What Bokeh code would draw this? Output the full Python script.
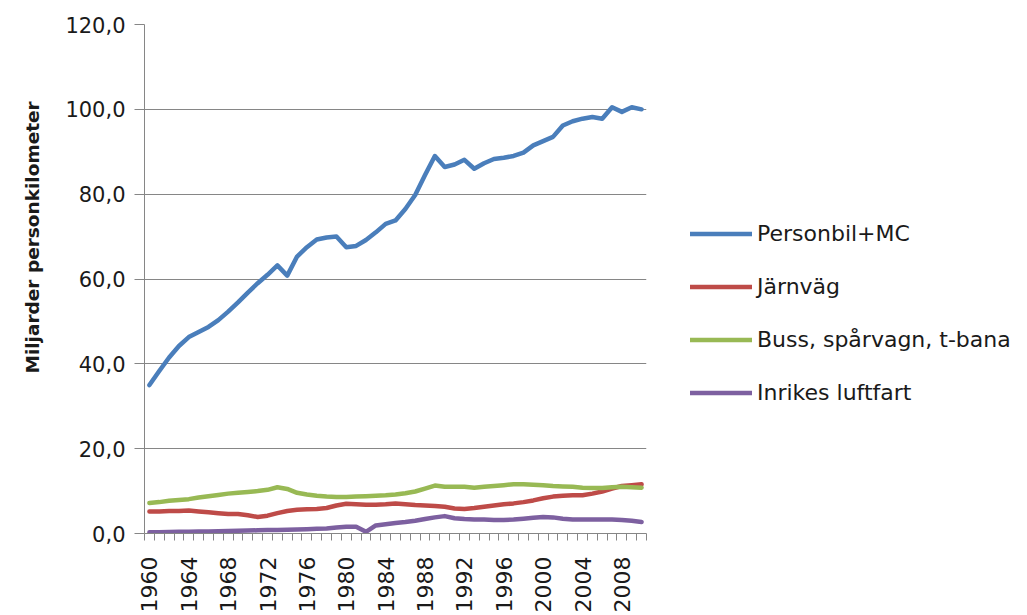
from bokeh.plotting import figure
from bokeh.models import Range1d, FixedTicker, Legend, LegendItem, Title
from bokeh.embed import file_html
from bokeh.resources import INLINE
import math

years = list(range(1960, 2011))

personbil = [35.0, 38.3, 41.5, 44.2, 46.3, 47.5, 48.7, 50.3, 52.3, 54.5,
             56.8, 59.0, 61.0, 63.2, 60.8, 65.3, 67.5, 69.3, 69.8, 70.0,
             67.5, 67.8, 69.2, 71.0, 73.0, 73.8, 76.5, 79.8, 84.5, 89.0,
             86.4, 87.0, 88.1, 86.0, 87.3, 88.3, 88.6, 89.0, 89.8, 91.5,
             92.5, 93.5, 96.2, 97.2, 97.8, 98.2, 97.8, 100.5, 99.4, 100.5,
             100.0]

jarnvag = [5.2, 5.2, 5.3, 5.3, 5.4, 5.2, 5.0, 4.8, 4.6, 4.6,
           4.3, 3.9, 4.2, 4.8, 5.3, 5.6, 5.7, 5.8, 6.0, 6.6,
           7.0, 6.9, 6.8, 6.8, 6.9, 7.1, 6.9, 6.7, 6.6, 6.5,
           6.3, 5.9, 5.8, 6.0, 6.3, 6.6, 6.9, 7.1, 7.4, 7.8,
           8.3, 8.7, 8.9, 9.0, 9.0, 9.4, 9.9, 10.6, 11.2, 11.4,
           11.6]

buss = [7.2, 7.4, 7.7, 7.9, 8.1, 8.5, 8.8, 9.1, 9.4, 9.6,
        9.8, 10.0, 10.3, 10.9, 10.5, 9.6, 9.2, 8.9, 8.7, 8.6,
        8.6, 8.7, 8.8, 8.9, 9.0, 9.2, 9.5, 9.9, 10.6, 11.3,
        11.0, 11.0, 11.0, 10.8, 11.0, 11.2, 11.4, 11.6, 11.6, 11.5,
        11.4, 11.2, 11.1, 11.0, 10.8, 10.7, 10.7, 10.9, 11.0, 10.9,
        10.8]

luftfart = [0.3, 0.3, 0.35, 0.4, 0.4, 0.45, 0.5, 0.55, 0.6, 0.65,
            0.7, 0.75, 0.8, 0.85, 0.9, 0.95, 1.0, 1.1, 1.2, 1.4,
            1.6, 1.6, 0.4, 1.9, 2.2, 2.5, 2.7, 3.0, 3.4, 3.8,
            4.1, 3.6, 3.4, 3.3, 3.3, 3.2, 3.2, 3.3, 3.5, 3.7,
            3.9, 3.8, 3.5, 3.3, 3.3, 3.3, 3.3, 3.3, 3.2, 3.0,
            2.7]

series_names = ["Personbil+MC", "Järnväg", "Buss, spårvagn, t-bana", "Inrikes luftfart"]
series_values = [personbil, jarnvag, buss, luftfart]
series_colors = ["#4A7EBB", "#BE4B48", "#98B954", "#7D60A0"]

y_ticks = [0, 20, 40, 60, 80, 100, 120]
y_tick_labels = ["0,0", "20,0", "40,0", "60,0", "80,0", "100,0", "120,0"]
x_label_years = list(range(1960, 2011, 4))
y_title = "Miljarder personkilometer"

GRID = "#868686"
TEXT = "#1a1a1a"

p = figure(width=1019, height=607, output_backend="svg", toolbar_location=None,
           x_range=Range1d(1959.5, 2010.5), y_range=Range1d(0, 120),
           frame_width=502, frame_height=509,
           min_border_left=144, min_border_top=24, min_border_bottom=74,
           min_border_right=373)
p.outline_line_color = None
p.background_fill_color = "white"

renderers = []
for name, vals, col in zip(series_names, series_values, series_colors):
    r = p.line(years, vals, line_color=col, line_width=4.5,
               line_join="round", line_cap="round")
    renderers.append((name, r))

# y axis
p.yaxis.ticker = FixedTicker(ticks=y_ticks)
p.yaxis.major_label_overrides = {t: l for t, l in zip(y_ticks, y_tick_labels)}
p.yaxis.major_label_text_font = "DejaVu Sans"
p.yaxis.major_label_text_font_size = "21px"
p.yaxis.major_label_text_color = TEXT
p.yaxis.major_tick_out = 10
p.yaxis.major_tick_in = 0
p.yaxis.minor_tick_line_color = None
p.yaxis.major_tick_line_color = GRID
p.yaxis.axis_line_color = GRID
p.yaxis.major_label_standoff = 9
p.ygrid.grid_line_color = GRID
p.ygrid.grid_line_width = 1
p.xgrid.grid_line_color = None

# x axis
p.xaxis.ticker = FixedTicker(ticks=x_label_years,
                             minor_ticks=[y - 0.5 for y in years] + [years[-1] + 0.5])
p.xaxis.major_label_overrides = {y: str(y) for y in x_label_years}
p.xaxis.major_label_orientation = math.pi / 2
p.xaxis.major_label_text_font = "DejaVu Sans"
p.xaxis.major_label_text_font_size = "22px"
p.xaxis.major_label_text_color = TEXT
p.xaxis.major_tick_out = 0
p.xaxis.major_tick_in = 0
p.xaxis.major_tick_line_color = None
p.xaxis.minor_tick_out = 7
p.xaxis.minor_tick_in = 0
p.xaxis.minor_tick_line_color = GRID
p.xaxis.axis_line_color = GRID
p.xaxis.major_label_standoff = 16

# y axis title
t = Title(text=y_title, align="left", offset=160, text_font="DejaVu Sans",
          text_font_size="18.5px", text_font_style="bold", text_color=TEXT,
          standoff=36, vertical_align="top")
p.add_layout(t, "left")

legend = Legend(items=[LegendItem(label=n, renderers=[r]) for n, r in renderers],
                location=(44, 128), padding=0, margin=0, spacing=28,
                glyph_width=62, glyph_height=25, label_height=25,
                label_standoff=5, label_text_font="DejaVu Sans",
                label_text_font_size="22px", label_text_color=TEXT,
                border_line_color=None, background_fill_alpha=0)
p.add_layout(legend, "right")

open("out.html", "w").write(file_html(p, INLINE))
